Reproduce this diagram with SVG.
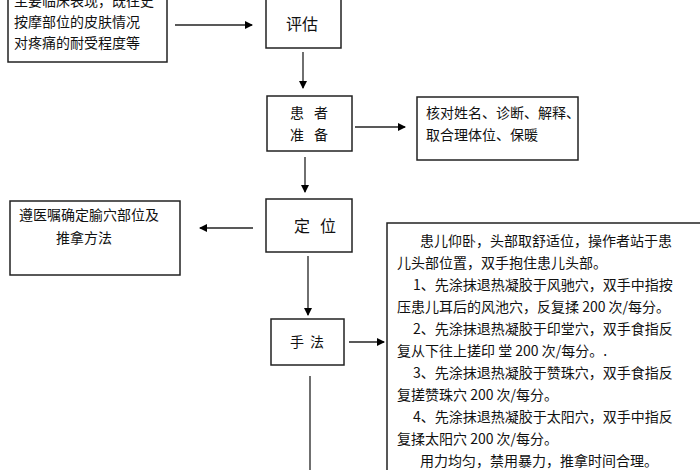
<svg xmlns="http://www.w3.org/2000/svg" width="700" height="470" viewBox="0 0 700 470">
<defs><marker id="ah" markerWidth="8" markerHeight="8" refX="7" refY="4" orient="auto" markerUnits="userSpaceOnUse"><path d="M0,0 L8,4 L0,8 z" fill="#000"/></marker></defs>
<style>
rect{fill:#fff;stroke:#222;stroke-width:1.5}
text{font-family:"Noto Sans CJK SC","Liberation Serif",sans-serif;fill:#111}
.s{font-size:14px}.b{font-size:16px}
.c line{stroke:#222;stroke-width:1.3}
</style>
<rect width="700" height="470" style="fill:#fff;stroke:none"/>
<g id="n1"><rect x="8" y="-10" width="159" height="72"/>
<text class="s" x="14" y="6">主要临床表现，既往史</text>
<text class="s" x="14" y="27">按摩部位的皮肤情况</text>
<text class="s" x="14" y="48">对疼痛的耐受程度等</text></g>
<g id="n2"><rect x="266" y="-5" width="75" height="53"/><text class="b" x="286" y="30">评估</text></g>
<g id="n3"><rect x="267" y="96" width="85" height="55"/><text class="s" x="290" y="118" letter-spacing="10">患者</text><text class="s" x="290" y="140" letter-spacing="10">准备</text></g>
<g id="n4"><rect x="417" y="97" width="161" height="63"/><text class="s" x="426" y="118">核对姓名、诊断、解释、</text><text class="s" x="426" y="140">取合理体位、保暖</text></g>
<g id="n5"><rect x="266" y="199" width="86" height="53"/><text class="b" x="294" y="232" letter-spacing="10">定位</text></g>
<g id="n6"><rect x="10" y="201" width="170" height="74"/><text class="s" x="19" y="220">遵医嘱确定腧穴部位及</text><text class="s" x="56" y="243">推拿方法</text></g>
<g id="n7"><rect x="271" y="319" width="73" height="46"/><text class="s" x="290" y="347" letter-spacing="6">手法</text></g>
<g id="n8"><rect x="387" y="223" width="320" height="260"/>
<g class="s">
<text x="420" y="246">患儿仰卧，头部取舒适位，操作者站于患</text>
<text x="397" y="268">儿头部位置，双手抱住患儿头部。</text>
<text x="413" y="290">1、先涂抹退热凝胶于风驰穴，双手中指按</text>
<text x="397" y="312">压患儿耳后的风池穴，反复揉 200 次/每分。</text>
<text x="413" y="334">2、先涂抹退热凝胶于印堂穴，双手食指反</text>
<text x="397" y="356">复从下往上搓印  堂 200 次/每分。.</text>
<text x="413" y="378">3、先涂抹退热凝胶于赞珠穴，双手食指反</text>
<text x="397" y="400">复搓赞珠穴 200 次/每分。</text>
<text x="413" y="422">4、先涂抹退热凝胶于太阳穴，双手中指反</text>
<text x="397" y="444">复揉太阳穴 200 次/每分。</text>
<text x="420" y="466">用力均匀，禁用暴力，推拿时间合理。</text>
</g></g>
<g class="c">
<line x1="175" y1="25" x2="252" y2="25" marker-end="url(#ah)"/>
<line x1="303" y1="52" x2="303" y2="88" marker-end="url(#ah)"/>
<line x1="355" y1="127" x2="405" y2="127" marker-end="url(#ah)"/>
<line x1="305" y1="157" x2="305" y2="192" marker-end="url(#ah)"/>
<line x1="253" y1="228" x2="200" y2="228" marker-end="url(#ah)"/>
<line x1="308" y1="256" x2="308" y2="315" marker-end="url(#ah)"/>
<line x1="349" y1="342" x2="384" y2="342" marker-end="url(#ah)"/>
<line x1="310" y1="376" x2="310" y2="470"/>
</g>
</svg>
